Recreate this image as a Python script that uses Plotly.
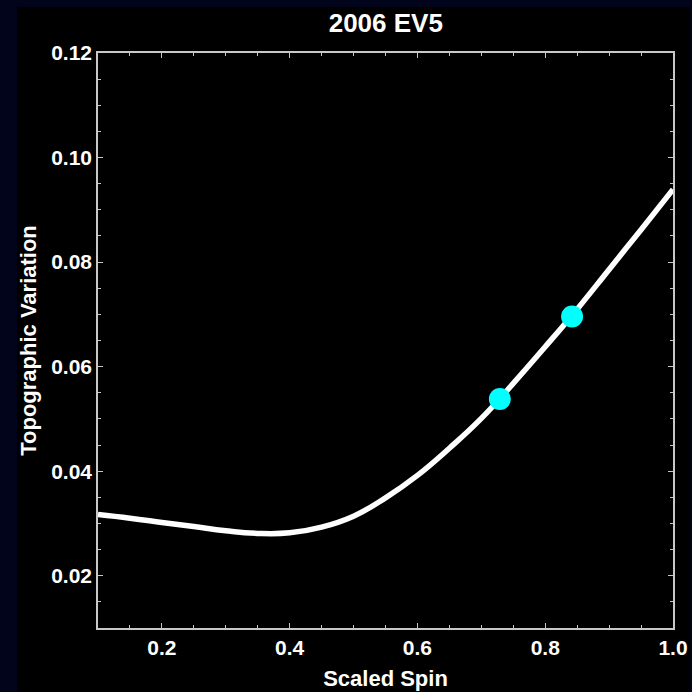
import plotly.graph_objects as go

# Topographic variation of 2006 EV5 versus scaled spin rate
spin = [0.10, 0.15, 0.20, 0.25, 0.30, 0.35, 0.40, 0.45, 0.50, 0.55,
        0.60, 0.65, 0.70, 0.75, 0.80, 0.85, 0.90, 0.95, 1.00]
topo = [0.0317, 0.0310, 0.0302, 0.0294, 0.0286, 0.0281, 0.0282, 0.0293, 0.0314, 0.0349,
        0.0392, 0.0444, 0.0501, 0.0568, 0.0638, 0.0710, 0.0786, 0.0862, 0.0939]

# Highlighted spin states
spin_pts = [0.729, 0.842]
topo_pts = [0.0538, 0.0696]

x_ticks = [0.2, 0.4, 0.6, 0.8, 1.0]
y_ticks = [0.02, 0.04, 0.06, 0.08, 0.10, 0.12]

FONT = "Liberation Sans, Arial, sans-serif"
FRAME = "#c8c8c8"

fig = go.Figure()
fig.add_trace(go.Scatter(
    x=spin, y=topo, mode="lines",
    line=dict(color="white", width=5.5, shape="spline", smoothing=1.3),
    hoverinfo="skip", showlegend=False,
))
fig.add_trace(go.Scatter(
    x=spin_pts, y=topo_pts, mode="markers",
    marker=dict(color="#00ffff", size=22, line=dict(width=0)),
    showlegend=False,
))

axis_common = dict(
    showline=True, linecolor=FRAME, linewidth=1.5, mirror="ticks",
    ticks="inside", tickcolor=FRAME, tickwidth=1.2, ticklen=5,
    showgrid=False, zeroline=False, automargin=False,
    tickfont=dict(family=FONT, size=21, color="white"),
)

fig.update_xaxes(
    range=[0.1, 1.0], tickvals=x_ticks, ticktext=[f"<b>{v:.1f}</b>" for v in x_ticks],
    minor=dict(dtick=0.05, tick0=0.0, ticks="inside", ticklen=3, tickcolor=FRAME, showgrid=False),
    title=dict(text="<b>Scaled Spin</b>", font=dict(family=FONT, size=22, color="white"), standoff=13),
    **axis_common,
)
fig.update_yaxes(
    range=[0.01, 0.12], tickvals=y_ticks, ticktext=[f"<b>{v:.2f}</b>" for v in y_ticks],
    minor=dict(dtick=0.005, tick0=0.0, ticks="inside", ticklen=3, tickcolor=FRAME, showgrid=False),
    title=dict(text="<b>Topographic Variation</b>", font=dict(family=FONT, size=22, color="white"), standoff=8),
    **axis_common,
)

# Black slide panel over the navy backdrop
fig.add_shape(type="rect", xref="paper", yref="paper",
              x0=-0.1409, x1=1.0296, y0=-0.12, y1=1.08,
              fillcolor="black", line=dict(width=0), layer="below")

fig.update_layout(
    width=692, height=692,
    margin=dict(l=98, r=19, t=53, b=64),
    paper_bgcolor="#02041c", plot_bgcolor="black",
    title=dict(text="<b>2006 EV5</b>", x=0.5575, xanchor="center", y=0.967, yanchor="middle",
               font=dict(family=FONT, size=26, color="white")),
)

fig.write_html("out.html")
